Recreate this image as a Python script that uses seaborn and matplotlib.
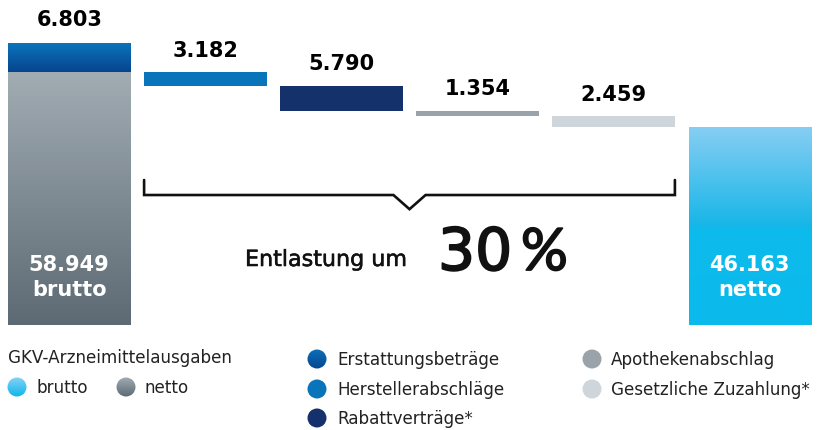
import numpy as np
import matplotlib
matplotlib.use("Agg")
import matplotlib.pyplot as plt
import matplotlib.patheffects as pe
import seaborn as sns
from matplotlib.colors import LinearSegmentedColormap
from matplotlib.patches import Circle

# ---------------- data ----------------
categories = ["brutto", "Herstellerabschläge", "Rabattverträge",
              "Apothekenabschlag", "Gesetzliche Zuzahlung", "netto"]
gross_value = 58.949          # grey part of left bar
erstattung_value = 6.803      # blue cap on left bar
deduction_values = [3.182, 5.790, 1.354, 2.459]
net_value = 46.163
left_label = "brutto"
right_label = "netto"
headline_text = "Entlastung um"
headline_pct = "30"

legend_title = "GKV-Arzneimittelausgaben"
legend_left = ["brutto", "netto"]
legend_mid = ["Erstattungsbeträge", "Herstellerabschläge", "Rabattverträge*"]
legend_right = ["Apothekenabschlag", "Gesetzliche Zuzahlung*"]

# ---------------- colours ----------------
c_hersteller = "#0a74bb"
c_rabatt = "#14316b"
c_apotheke = "#99a3a9"
c_zuzahlung = "#ced5db"
grad_grey = [(0.0, "#a1acb3"), (1.0, "#5d6a73")]
grad_blue_cap = [(0.0, "#0b76bd"), (1.0, "#06448e")]
grad_light = [(0.0, "#88cef3"), (0.5, "#17b6e8"), (0.52, "#0dbaec"), (1.0, "#0bbaec")]

sns.set_theme(style="white")
plt.rcParams["font.family"] = ["DejaVu Sans"]

W, H = 819, 430
fig = plt.figure(figsize=(W / 100, H / 100), dpi=100)
ax = fig.add_axes([8 / W, 105 / H, 803 / W, 325 / H])

# ---------------- waterfall geometry ----------------
tops, bottoms = [gross_value], [0.0]
level = gross_value
for d in deduction_values:
    tops.append(level)
    bottoms.append(level - d)
    level -= d
tops.append(net_value)
bottoms.append(0.0)

palette = {categories[0]: "#7f8b93", categories[1]: c_hersteller,
           categories[2]: c_rabatt, categories[3]: c_apotheke,
           categories[4]: c_zuzahlung, categories[5]: "#0bbaec"}

sns.barplot(x=categories, y=tops, hue=categories, palette=palette,
            order=categories, hue_order=categories, width=0.9,
            saturation=1, legend=False, ax=ax, linewidth=0)
main_bars = list(ax.patches)
for p, b, t in zip(main_bars, bottoms, tops):
    p.set_y(b)
    p.set_height(t - b)

n_before = len(ax.patches)
sns.barplot(x=[categories[0]], y=[gross_value + erstattung_value],
            order=categories, color="#0a5ea8", width=0.9, saturation=1,
            ax=ax, linewidth=0)
cap_bar = ax.patches[n_before]
cap_bar.set_y(gross_value)
cap_bar.set_height(erstattung_value)


def grad_fill(axis, patch, stops, z=3):
    cmap = LinearSegmentedColormap.from_list("g", stops)
    bb = patch.get_bbox()
    img = np.linspace(0, 1, 256).reshape(-1, 1)
    im = axis.imshow(img, cmap=cmap, aspect="auto",
                     extent=(bb.x0, bb.x1, bb.y0, bb.y1),
                     origin="upper", zorder=z, interpolation="bilinear")
    im.set_clip_path(patch)
    return im


grad_fill(ax, main_bars[0], grad_grey)
grad_fill(ax, cap_bar, grad_blue_cap)
grad_fill(ax, main_bars[-1], grad_light)

ax.set_xlim(-0.45, 5.45)
ax.set_ylim(0, 75.76)
ax.axis("off")

# ---------------- value labels ----------------
bold = dict(fontsize=15, fontweight="bold", ha="center", va="baseline")
ax.annotate(f"{erstattung_value:.3f}", (0, gross_value + erstattung_value),
            xytext=(0, 12), textcoords="offset points", color="black", zorder=5, **bold)
for i, d in enumerate(deduction_values, start=1):
    ax.annotate(f"{d:.3f}", (i, tops[i]), xytext=(0, 11), textcoords="offset points",
                color="black", zorder=5, **bold)

for i, (v, lab) in [(0, (gross_value, left_label)), (5, (net_value, right_label))]:
    ax.text(i, 12.6, f"{v:.3f}", color="white", zorder=5, **bold)
    ax.text(i, 6.75, lab, color="white", zorder=5, **bold)

# ---------------- bracket ----------------
xl, xr = 1 - 0.45, 4 + 0.45
xm = (xl + xr) / 2
y_tick, y_line, y_notch = 33.8, 30.3, 27.0
hw = 0.118
ax.plot([xl, xl, xm - hw, xm, xm + hw, xr, xr],
        [y_tick, y_line, y_line, y_notch, y_line, y_line, y_tick],
        color="#111111", lw=1.9, solid_joinstyle="miter", zorder=5)

thick = [pe.withStroke(linewidth=1.3, foreground="#111111")]
ax.text((245 - 8) / 136.1 - 0.45, (325 - 266) / 4.29, headline_text,
        fontsize=16, ha="left", va="baseline", color="#111111",
        path_effects=[pe.withStroke(linewidth=0.4, foreground="#111111")])
ax.text((438 - 8) / 136.1 - 0.45, (325 - 270) / 4.29, headline_pct,
        fontsize=42, ha="left", va="baseline", color="#111111", path_effects=thick)
ax.text((521 - 8) / 136.1 - 0.45, (325 - 270) / 4.29, "%",
        fontsize=42, ha="left", va="baseline", color="#111111", family="Lato",
        path_effects=thick)

# ---------------- legend (overlay in pixel coords) ----------------
lg = fig.add_axes([0, 0, 1, 1], zorder=10)
lg.set_xlim(0, W)
lg.set_ylim(H, 0)
lg.axis("off")
lg.patch.set_alpha(0)

fs = 12.1
lg.text(8, 358, legend_title, fontsize=fs, va="center", ha="left", color="#222222")


def legend_dot(x, y, color=None, stops=None):
    c = Circle((x, y), 9.5, facecolor=color if color else "none", edgecolor="none", zorder=3)
    lg.add_patch(c)
    if stops is not None:
        cmap = LinearSegmentedColormap.from_list("g", stops)
        img = np.linspace(0, 1, 64).reshape(-1, 1)
        im = lg.imshow(img, cmap=cmap, aspect="auto",
                       extent=(x - 10, x + 10, y + 10, y - 10), origin="upper", zorder=4)
        im.set_clip_path(c)


legend_dot(17, 387, stops=[(0, "#86d2f6"), (1, "#0bb6ec")])
lg.text(37, 388, legend_left[0], fontsize=fs, va="center", color="#222222")
legend_dot(126, 387, stops=[(0, "#a0abb2"), (1, "#5d6a73")])
lg.text(145, 388, legend_left[1], fontsize=fs, va="center", color="#222222")

mid_y = [359, 389, 418]
legend_dot(317, mid_y[0], stops=[(0, "#0b6fb8"), (1, "#064790")])
legend_dot(317, mid_y[1], color=c_hersteller)
legend_dot(317, mid_y[2], color=c_rabatt)
for y, t in zip(mid_y, legend_mid):
    lg.text(337, y + 1, t, fontsize=fs, va="center", color="#222222")

right_y = [359, 389]
legend_dot(592, right_y[0], color=c_apotheke)
legend_dot(592, right_y[1], color=c_zuzahlung)
for y, t in zip(right_y, legend_right):
    lg.text(611, y + 1, t, fontsize=fs, va="center", color="#222222")

fig.savefig("out.png", dpi=100, facecolor="white")
